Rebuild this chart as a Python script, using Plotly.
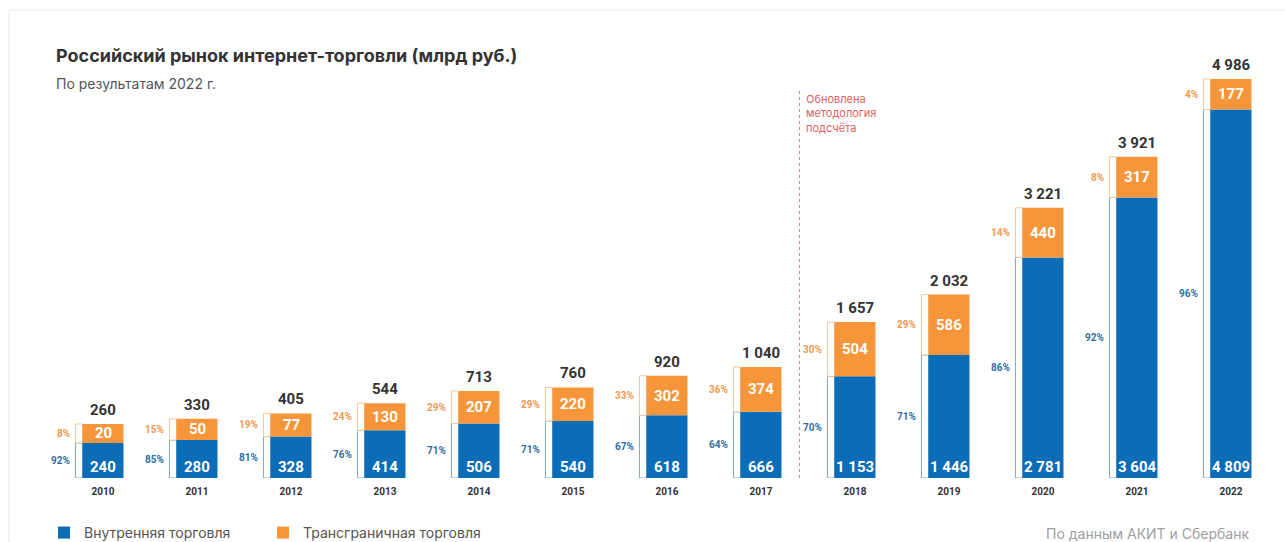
import plotly.graph_objects as go

# ---------------- data ----------------
years = ["2010", "2011", "2012", "2013", "2014", "2015", "2016",
         "2017", "2018", "2019", "2020", "2021", "2022"]
domestic = [240, 280, 328, 414, 506, 540, 618, 666, 1153, 1446, 2781, 3604, 4809]
crossborder = [20, 50, 77, 130, 207, 220, 302, 374, 504, 586, 440, 317, 177]
totals = [260, 330, 405, 544, 713, 760, 920, 1040, 1657, 2032, 3221, 3921, 4986]
domestic_pct = [92, 85, 81, 76, 71, 71, 67, 64, 70, 71, 86, 92, 96]
crossborder_pct = [8, 15, 19, 24, 29, 29, 33, 36, 30, 29, 14, 8, 4]

# ---------------- style ----------------
BLUE = "#0B6CB7"
ORANGE = "#F7953B"
BLUE_TXT = "#2F6F9F"
ORANGE_TXT = "#F09A50"
DARK = "#333333"
SEG_MIN = 240          # visual minimum added to every segment (as in the original infographic)
W, H = 1285, 542
ML, MR, MT, MB = 56, 7, 50, 64
PX_PER_UNIT = 0.073
YMAX = (H - MT - MB) / PX_PER_UNIT
BAR_W = 0.436
STRIP_W = 0.075
BREAK_X = 7.41
NUM_FONT = "Roboto"
TXT_FONT = "Inter"

x = list(range(len(years)))
dom_h = [v + SEG_MIN for v in domestic]
cb_h = [v + SEG_MIN for v in crossborder]


def fmt(v):
    return f"{v:,}".replace(",", " ")


fig = go.Figure()

# side strips (outlined)
fig.add_trace(go.Bar(x=x, y=dom_h, base=[0] * len(x), width=STRIP_W,
                     offset=-BAR_W / 2 - STRIP_W,
                     marker=dict(color="white", line=dict(color="#7FA9C9", width=1)),
                     showlegend=False, hoverinfo="skip"))
fig.add_trace(go.Bar(x=x, y=cb_h, base=dom_h, width=STRIP_W,
                     offset=-BAR_W / 2 - STRIP_W,
                     marker=dict(color="white", line=dict(color="#EFC999", width=1)),
                     showlegend=False, hoverinfo="skip"))

# main bars
fig.add_trace(go.Bar(x=x, y=dom_h, base=[0] * len(x), width=BAR_W, offset=-BAR_W / 2,
                     marker=dict(color=BLUE, line=dict(width=0)),
                     name="Внутренняя торговля",
                     customdata=domestic, hovertemplate="%{customdata}<extra></extra>"))
fig.add_trace(go.Bar(x=x, y=cb_h, base=dom_h, width=BAR_W, offset=-BAR_W / 2,
                     marker=dict(color=ORANGE, line=dict(width=0)),
                     name="Трансграничная торговля",
                     customdata=crossborder, hovertemplate="%{customdata}<extra></extra>"))

ann = []
for i in x:
    ann.append(dict(x=i, y=0, text=f"<b>{fmt(domestic[i])}</b>", showarrow=False,
                    xanchor="center", yanchor="bottom", yshift=0,
                    font=dict(family=NUM_FONT, size=15, color="white")))
    ann.append(dict(x=i, y=dom_h[i] + cb_h[i] / 2, text=f"<b>{fmt(crossborder[i])}</b>",
                    showarrow=False, xanchor="center", yanchor="middle",
                    font=dict(family=NUM_FONT, size=15, color="white")))
    ann.append(dict(x=i, y=dom_h[i] + cb_h[i], text=f"<b>{fmt(totals[i])}</b>",
                    showarrow=False, xanchor="center", yanchor="bottom", yshift=3,
                    font=dict(family=NUM_FONT, size=15, color=DARK)))
    px_x = i - BAR_W / 2 - STRIP_W - 0.035
    ann.append(dict(x=px_x, y=dom_h[i] / 2, text=f"<b>{domestic_pct[i]}%</b>",
                    showarrow=False, xanchor="right", yanchor="middle",
                    font=dict(family=NUM_FONT, size=10, color=BLUE_TXT)))
    ann.append(dict(x=px_x, y=dom_h[i] + cb_h[i] / 2, text=f"<b>{crossborder_pct[i]}%</b>",
                    showarrow=False, xanchor="right", yanchor="middle",
                    font=dict(family=NUM_FONT, size=10, color=ORANGE_TXT)))

plot_w = W - ML - MR
plot_h = H - MT - MB


def px2paper_x(px):
    return (px - ML) / plot_w


def px2paper_y(py):
    return (H - MB - py) / plot_h


ann.append(dict(xref="paper", yref="paper", x=px2paper_x(54), y=px2paper_y(55),
                text="<b>Российский рынок интернет-торговли (млрд руб.)</b>",
                showarrow=False, xanchor="left", yanchor="middle",
                font=dict(family=TXT_FONT, size=18, color=DARK)))
ann.append(dict(xref="paper", yref="paper", x=px2paper_x(54), y=px2paper_y(84),
                text="По результатам 2022 г.", showarrow=False,
                xanchor="left", yanchor="middle",
                font=dict(family=TXT_FONT, size=14, color="#555555")))
ann.append(dict(x=BREAK_X, xshift=4, yref="paper", y=px2paper_y(90),
                text="Обновлена<br>методология<br>подсчёта", showarrow=False,
                xanchor="left", yanchor="top", align="left",
                font=dict(family=TXT_FONT, size=11, color="#E0625E")))
ann.append(dict(xref="paper", yref="paper", x=px2paper_x(1251), y=px2paper_y(533),
                text="По данным АКИТ и Сбербанк", showarrow=False,
                xanchor="right", yanchor="middle",
                font=dict(family=TXT_FONT, size=14, color="#A0A0A0")))

shapes = [
    dict(type="line", x0=BREAK_X, x1=BREAK_X, yref="paper", y0=0, y1=px2paper_y(90),
         line=dict(color="#E57A7A", width=1, dash="dot")),
    dict(type="line", xref="paper", yref="paper", x0=px2paper_x(9), x1=px2paper_x(1300),
         y0=px2paper_y(10), y1=px2paper_y(10), line=dict(color="#E8E8E8", width=1)),
    dict(type="line", xref="paper", yref="paper", x0=px2paper_x(9), x1=px2paper_x(9),
         y0=px2paper_y(10), y1=px2paper_y(560), line=dict(color="#E8E8E8", width=1)),
]

fig.update_layout(
    width=W, height=H,
    margin=dict(l=ML, r=MR, t=MT, b=MB, autoexpand=False),
    barmode="overlay",
    plot_bgcolor="white", paper_bgcolor="white",
    annotations=ann, shapes=shapes,
    xaxis=dict(range=[-0.5, len(years) - 0.5], tickvals=x,
               ticktext=[f"<b>{y}</b>" for y in years],
               tickfont=dict(family=NUM_FONT, size=10, color=DARK),
               ticklabelstandoff=6,
               showgrid=False, zeroline=False, showline=False, ticks="", ticklen=0),
    yaxis=dict(range=[0, YMAX], visible=False, showgrid=False, zeroline=False),
    legend=dict(orientation="h", x=px2paper_x(44), y=px2paper_y(533),
                xanchor="left", yanchor="middle", entrywidth=174, entrywidthmode="pixels",
                font=dict(family=TXT_FONT, size=14, color="#555555"),
                bgcolor="rgba(0,0,0,0)"),
    showlegend=True,
)

fig.write_html("out.html", config={"displayModeBar": False},
               post_script="document.body.style.margin='0';document.body.style.overflow='hidden';")
